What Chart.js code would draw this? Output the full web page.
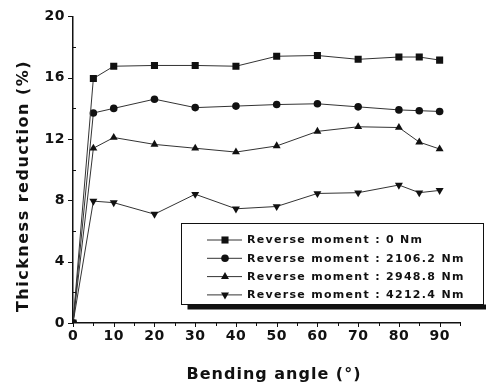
<!DOCTYPE html>
<html>
<head>
<meta charset="utf-8">
<script src="https://cdn.jsdelivr.net/npm/chart.js@4.4.1/dist/chart.umd.min.js"></script>
<style>
  html, body { margin: 0; padding: 0; background: #fff; }
</style>
</head>
<body>
<canvas id="grafica" width="486" height="389"></canvas>
<script>
// valores
const angulos = [0, 5, 10, 20, 30, 40, 50, 60, 70, 80, 85, 90];
const momento0 = [0, 15.95, 16.75, 16.8, 16.8, 16.75, 17.4, 17.45, 17.2, 17.35, 17.35, 17.15];
const momento2106 = [0, 13.7, 14.0, 14.6, 14.05, 14.15, 14.25, 14.3, 14.1, 13.9, 13.85, 13.8];
const momento2948 = [0, 11.4, 12.1, 11.65, 11.4, 11.15, 11.55, 12.5, 12.8, 12.75, 11.8, 11.35];
const momento4212 = [0, 7.95, 7.85, 7.1, 8.4, 7.45, 7.6, 8.45, 8.5, 9.0, 8.5, 8.65];
const etiquetas = [
    'Reverse moment : 0 Nm',
    'Reverse moment : 2106.2 Nm',
    'Reverse moment : 2948.8 Nm',
    'Reverse moment : 4212.4 Nm'
];
const ticksX = [0, 10, 20, 30, 40, 50, 60, 70, 80, 90];
const ticksY = [0, 4, 8, 12, 16, 20];
const tituloX = 'Bending angle (°)';
const tituloY = 'Thickness reduction (%)';

const fuente = '"DejaVu Sans", Verdana, sans-serif';
const negro = '#111';

function serie(label, data, estilo, radio, rot) {
    return {
        label: label,
        data: data.map((v, i) => ({ x: angulos[i], y: v })),
        borderColor: '#333',
        borderWidth: 1,
        backgroundColor: negro,
        pointBackgroundColor: negro,
        pointBorderColor: negro,
        pointBorderWidth: 0,
        pointStyle: estilo,
        pointRadius: radio,
        pointRotation: rot || 0,
        tension: 0
    };
}

const marcas = {
    id: 'marcas',
    beforeDraw(chart) {
        chart.ctx.letterSpacing = '0.5px';
    },
    afterDraw(chart) {
        const ctx = chart.ctx;
        const x = chart.scales.x, y = chart.scales.y;
        ctx.save();
        ctx.strokeStyle = negro;
        ctx.lineWidth = 1;
        ctx.beginPath();
        for (let v = 0; v <= x.max; v += 5) {
            const px = Math.round(x.getPixelForValue(v)) + 0.5;
            ctx.moveTo(px, y.bottom);
            ctx.lineTo(px, y.bottom + (v % 10 === 0 ? 4 : 3));
        }
        for (let v = 0; v <= y.max; v += 2) {
            const py = Math.round(y.getPixelForValue(v)) + 0.5;
            if (v % 4 === 0) { ctx.moveTo(x.left - 5, py); ctx.lineTo(x.left, py); }
            else { ctx.moveTo(x.left, py); ctx.lineTo(x.left + 3, py); }
        }
        ctx.stroke();

        // titulos de ejes
        ctx.fillStyle = negro;
        ctx.font = 'bold 16px ' + fuente;
        ctx.textAlign = 'center';
        ctx.textBaseline = 'middle';
        ctx.letterSpacing = '1px';
        ctx.fillText(tituloX, 274, 375);
        ctx.save();
        ctx.translate(24, 186);
        ctx.rotate(-Math.PI / 2);
        ctx.letterSpacing = '1.5px';
        ctx.fillText(tituloY, 0, 0);
        ctx.restore();

        // leyenda dentro del area
        const caja = { left: 181.5, top: 223.5, right: 483.5, bottom: 304.5 };
        ctx.fillStyle = '#fff';
        ctx.fillRect(caja.left, caja.top, caja.right - caja.left, caja.bottom - caja.top);
        ctx.fillStyle = negro;
        ctx.fillRect(caja.left + 6, caja.bottom, caja.right - caja.left - 3, 5);
        ctx.strokeStyle = negro;
        ctx.lineWidth = 1;
        ctx.strokeRect(caja.left, caja.top, caja.right - caja.left, caja.bottom - caja.top);

        ctx.font = 'bold 11px ' + fuente;
        ctx.letterSpacing = '1.3px';
        ctx.textBaseline = 'middle';
        ctx.textAlign = 'left';
        chart.data.datasets.forEach((ds, i) => {
            const yy = 240 + i * 18.3;
            ctx.strokeStyle = '#333';
            ctx.beginPath();
            ctx.moveTo(207, yy);
            ctx.lineTo(242, yy);
            ctx.stroke();
            ctx.fillStyle = negro;
            Chart.helpers.drawPoint(ctx, {
                pointStyle: ds.pointStyle,
                radius: ds.pointRadius,
                rotation: ds.pointRotation,
                borderWidth: 0
            }, 225, yy);
            ctx.fillStyle = negro;
            ctx.fillText(ds.label, 247, yy + 0.5);
        });
        ctx.restore();
    }
};

const ctx = document.getElementById('grafica').getContext('2d');
new Chart(ctx, {
    type: 'line',
    data: {
        datasets: [
            serie(etiquetas[0], momento0, 'rect', 5),
            serie(etiquetas[1], momento2106, 'circle', 3.8),
            serie(etiquetas[2], momento2948, 'triangle', 4.6),
            serie(etiquetas[3], momento4212, 'triangle', 4.6, 180)
        ]
    },
    options: {
        responsive: false,
        animation: false,
        layout: { padding: { left: 0, right: 26, top: 15, bottom: 0 } },
        plugins: {
            legend: { display: false },
            tooltip: { enabled: false }
        },
        scales: {
            x: {
                type: 'linear',
                min: 0,
                max: 95,
                afterBuildTicks: s => { s.ticks = ticksX.map(v => ({ value: v })); },
                afterFit: s => { s.height = 66; },
                grid: { display: false, drawTicks: false },
                border: { display: true, color: negro, width: 1.5 },
                ticks: {
                    color: negro, padding: 5, maxRotation: 0, autoSkip: false,
                    font: { family: fuente, size: 14, weight: 'bold' }
                }
            },
            y: {
                min: 0,
                max: 20,
                afterBuildTicks: s => { s.ticks = ticksY.map(v => ({ value: v })); },
                afterFit: s => { s.width = 73; },
                grid: { display: false, drawTicks: false },
                border: { display: true, color: negro, width: 1.5 },
                ticks: {
                    color: negro, padding: 8, autoSkip: false,
                    font: { family: fuente, size: 14, weight: 'bold' }
                }
            }
        }
    },
    plugins: [marcas]
});
</script>
</body>
</html>
